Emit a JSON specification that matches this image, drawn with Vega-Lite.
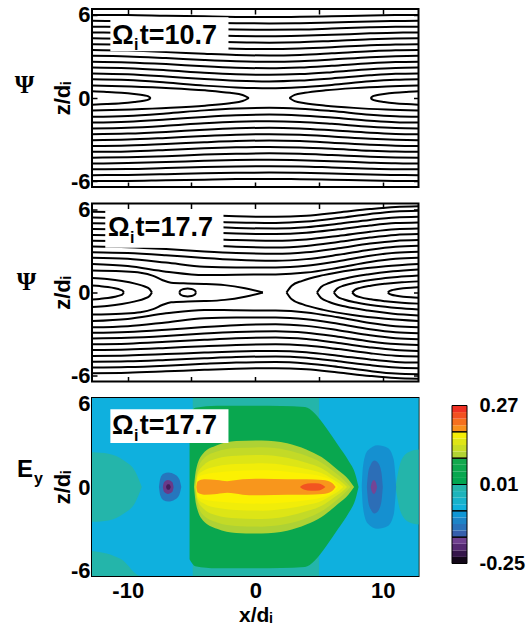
{
"$schema":"https://vega.github.io/schema/vega-lite/v6.json",
"background":"white",
"padding":{"left":13,"top":2,"right":5,"bottom":0},
"bounds":"flush",
"spacing":16.5,
"config":{
 "font":"Liberation Sans",
 "view":{"stroke":"black","strokeWidth":2},
 "axis":{"grid":false,"domain":false,"tickColor":"black","tickWidth":1.5,"tickSize":-5,"labelColor":"black","labelFontSize":22,"labelFontWeight":"bold","labelFont":"Liberation Sans","titleColor":"black","titleFontSize":22,"titleFontWeight":"bold","titleFont":"Liberation Sans","labelOverlap":false,"labelFlush":false}
},
"datasets":{
"p1":[
{"l":"a1","x":-12.8,"u":1.35,"d":-1.35},{"l":"a1","x":-10,"u":1.29,"d":-1.29},{"l":"a1","x":-7,"u":1.11,"d":-1.11},{"l":"a1","x":-4,"u":0.89,"d":-0.89},{"l":"a1","x":-1.5,"u":0.76,"d":-0.76},{"l":"a1","x":1.1,"u":0.7,"d":-0.7},{"l":"a1","x":3.5,"u":0.77,"d":-0.77},{"l":"a1","x":6,"u":0.94,"d":-0.94},{"l":"a1","x":9,"u":1.2,"d":-1.2},{"l":"a1","x":11,"u":1.31,"d":-1.31},{"l":"a1","x":12.8,"u":1.35,"d":-1.35},
{"l":"a2","x":-12.8,"u":1.77,"d":-1.77},{"l":"a2","x":-10,"u":1.71,"d":-1.71},{"l":"a2","x":-7,"u":1.55,"d":-1.55},{"l":"a2","x":-4,"u":1.36,"d":-1.36},{"l":"a2","x":-1.5,"u":1.24,"d":-1.24},{"l":"a2","x":1.1,"u":1.19,"d":-1.19},{"l":"a2","x":3.5,"u":1.25,"d":-1.25},{"l":"a2","x":6,"u":1.41,"d":-1.41},{"l":"a2","x":9,"u":1.63,"d":-1.63},{"l":"a2","x":11,"u":1.74,"d":-1.74},{"l":"a2","x":12.8,"u":1.77,"d":-1.77},
{"l":"a3","x":-12.8,"u":2.19,"d":-2.19},{"l":"a3","x":-10,"u":2.14,"d":-2.14},{"l":"a3","x":-7,"u":2.0,"d":-2.0},{"l":"a3","x":-4,"u":1.82,"d":-1.82},{"l":"a3","x":-1.5,"u":1.71,"d":-1.71},{"l":"a3","x":1.1,"u":1.67,"d":-1.67},{"l":"a3","x":3.5,"u":1.72,"d":-1.72},{"l":"a3","x":6,"u":1.86,"d":-1.86},{"l":"a3","x":9,"u":2.07,"d":-2.07},{"l":"a3","x":11,"u":2.16,"d":-2.16},{"l":"a3","x":12.8,"u":2.19,"d":-2.19},
{"l":"a4","x":-12.8,"u":2.61,"d":-2.61},{"l":"a4","x":-10,"u":2.56,"d":-2.56},{"l":"a4","x":-7,"u":2.44,"d":-2.44},{"l":"a4","x":-4,"u":2.28,"d":-2.28},{"l":"a4","x":-1.5,"u":2.18,"d":-2.18},{"l":"a4","x":1.1,"u":2.14,"d":-2.14},{"l":"a4","x":3.5,"u":2.19,"d":-2.19},{"l":"a4","x":6,"u":2.32,"d":-2.32},{"l":"a4","x":9,"u":2.5,"d":-2.5},{"l":"a4","x":11,"u":2.58,"d":-2.58},{"l":"a4","x":12.8,"u":2.61,"d":-2.61},
{"l":"a5","x":-12.8,"u":3.03,"d":-3.03},{"l":"a5","x":-10,"u":2.99,"d":-2.99},{"l":"a5","x":-7,"u":2.87,"d":-2.87},{"l":"a5","x":-4,"u":2.73,"d":-2.73},{"l":"a5","x":-1.5,"u":2.64,"d":-2.64},{"l":"a5","x":1.1,"u":2.6,"d":-2.6},{"l":"a5","x":3.5,"u":2.64,"d":-2.64},{"l":"a5","x":6,"u":2.76,"d":-2.76},{"l":"a5","x":9,"u":2.93,"d":-2.93},{"l":"a5","x":11,"u":3.0,"d":-3.0},{"l":"a5","x":12.8,"u":3.03,"d":-3.03},
{"l":"a6","x":-12.8,"u":3.45,"d":-3.45},{"l":"a6","x":-10,"u":3.41,"d":-3.41},{"l":"a6","x":-7,"u":3.31,"d":-3.31},{"l":"a6","x":-4,"u":3.18,"d":-3.18},{"l":"a6","x":-1.5,"u":3.09,"d":-3.09},{"l":"a6","x":1.1,"u":3.06,"d":-3.06},{"l":"a6","x":3.5,"u":3.1,"d":-3.1},{"l":"a6","x":6,"u":3.21,"d":-3.21},{"l":"a6","x":9,"u":3.36,"d":-3.36},{"l":"a6","x":11,"u":3.43,"d":-3.43},{"l":"a6","x":12.8,"u":3.45,"d":-3.45},
{"l":"a7","x":-12.8,"u":3.87,"d":-3.87},{"l":"a7","x":-10,"u":3.84,"d":-3.84},{"l":"a7","x":-7,"u":3.74,"d":-3.74},{"l":"a7","x":-4,"u":3.62,"d":-3.62},{"l":"a7","x":-1.5,"u":3.55,"d":-3.55},{"l":"a7","x":1.1,"u":3.52,"d":-3.52},{"l":"a7","x":3.5,"u":3.56,"d":-3.56},{"l":"a7","x":6,"u":3.65,"d":-3.65},{"l":"a7","x":9,"u":3.79,"d":-3.79},{"l":"a7","x":11,"u":3.85,"d":-3.85},{"l":"a7","x":12.8,"u":3.87,"d":-3.87},
{"l":"a8","x":-12.8,"u":4.29,"d":-4.29},{"l":"a8","x":-10,"u":4.26,"d":-4.26},{"l":"a8","x":-7,"u":4.18,"d":-4.18},{"l":"a8","x":-4,"u":4.07,"d":-4.07},{"l":"a8","x":-1.5,"u":4.01,"d":-4.01},{"l":"a8","x":1.1,"u":3.98,"d":-3.98},{"l":"a8","x":3.5,"u":4.01,"d":-4.01},{"l":"a8","x":6,"u":4.1,"d":-4.1},{"l":"a8","x":9,"u":4.22,"d":-4.22},{"l":"a8","x":11,"u":4.27,"d":-4.27},{"l":"a8","x":12.8,"u":4.29,"d":-4.29},
{"l":"a9","x":-12.8,"u":4.71,"d":-4.71},{"l":"a9","x":-10,"u":4.68,"d":-4.68},{"l":"a9","x":-7,"u":4.61,"d":-4.61},{"l":"a9","x":-4,"u":4.52,"d":-4.52},{"l":"a9","x":-1.5,"u":4.46,"d":-4.46},{"l":"a9","x":1.1,"u":4.44,"d":-4.44},{"l":"a9","x":3.5,"u":4.47,"d":-4.47},{"l":"a9","x":6,"u":4.54,"d":-4.54},{"l":"a9","x":9,"u":4.65,"d":-4.65},{"l":"a9","x":11,"u":4.7,"d":-4.7},{"l":"a9","x":12.8,"u":4.71,"d":-4.71},
{"l":"a10","x":-12.8,"u":5.13,"d":-5.13},{"l":"a10","x":-10,"u":5.11,"d":-5.11},{"l":"a10","x":-7,"u":5.04,"d":-5.04},{"l":"a10","x":-4,"u":4.97,"d":-4.97},{"l":"a10","x":-1.5,"u":4.92,"d":-4.92},{"l":"a10","x":1.1,"u":4.9,"d":-4.9},{"l":"a10","x":3.5,"u":4.92,"d":-4.92},{"l":"a10","x":6,"u":4.99,"d":-4.99},{"l":"a10","x":9,"u":5.08,"d":-5.08},{"l":"a10","x":11,"u":5.12,"d":-5.12},{"l":"a10","x":12.8,"u":5.13,"d":-5.13},
{"l":"a11","x":-12.8,"u":5.55,"d":-5.55},{"l":"a11","x":-10,"u":5.53,"d":-5.53},{"l":"a11","x":-7,"u":5.48,"d":-5.48},{"l":"a11","x":-4,"u":5.42,"d":-5.42},{"l":"a11","x":-1.5,"u":5.38,"d":-5.38},{"l":"a11","x":1.1,"u":5.36,"d":-5.36},{"l":"a11","x":3.5,"u":5.38,"d":-5.38},{"l":"a11","x":6,"u":5.43,"d":-5.43},{"l":"a11","x":9,"u":5.51,"d":-5.51},{"l":"a11","x":11,"u":5.54,"d":-5.54},{"l":"a11","x":12.8,"u":5.55,"d":-5.55},
{"l":"a12","x":-12.8,"u":5.97,"d":-5.97},{"l":"a12","x":-10,"u":5.96,"d":-5.96},{"l":"a12","x":-7,"u":5.91,"d":-5.91},{"l":"a12","x":-4,"u":5.87,"d":-5.87},{"l":"a12","x":-1.5,"u":5.83,"d":-5.83},{"l":"a12","x":1.1,"u":5.82,"d":-5.82},{"l":"a12","x":3.5,"u":5.84,"d":-5.84},{"l":"a12","x":6,"u":5.88,"d":-5.88},{"l":"a12","x":9,"u":5.93,"d":-5.93},{"l":"a12","x":11,"u":5.96,"d":-5.96},{"l":"a12","x":12.8,"u":5.97,"d":-5.97},
{"l":"b1","x":-12.8,"u":0.48,"d":-0.48},{"l":"b1","x":-11.65,"u":0.44,"d":-0.44},{"l":"b1","x":-10.5,"u":0.38,"d":-0.38},{"l":"b1","x":-9.49,"u":0.29,"d":-0.29},{"l":"b1","x":-8.75,"u":0.2,"d":-0.2},{"l":"b1","x":-8.38,"u":0.12,"d":-0.12},{"l":"b1","x":-8.2,"u":0,"d":0},
{"l":"b2","x":9.05,"u":0,"d":0},{"l":"b2","x":9.2,"u":0.12,"d":-0.12},{"l":"b2","x":9.5,"u":0.2,"d":-0.2},{"l":"b2","x":10.1,"u":0.29,"d":-0.29},{"l":"b2","x":10.93,"u":0.38,"d":-0.38},{"l":"b2","x":11.86,"u":0.44,"d":-0.44},{"l":"b2","x":12.8,"u":0.48,"d":-0.48},
{"l":"c1","x":-12.8,"u":0.9,"d":-0.9},{"l":"c1","x":-9.73,"u":0.83,"d":-0.83},{"l":"c1","x":-6.65,"u":0.71,"d":-0.71},{"l":"c1","x":-3.94,"u":0.55,"d":-0.55},{"l":"c1","x":-1.98,"u":0.37,"d":-0.37},{"l":"c1","x":-0.99,"u":0.22,"d":-0.22},{"l":"c1","x":-0.5,"u":0,"d":0},
{"l":"c2","x":2.68,"u":0,"d":0},{"l":"c2","x":3.09,"u":0.22,"d":-0.22},{"l":"c2","x":3.89,"u":0.37,"d":-0.37},{"l":"c2","x":5.51,"u":0.55,"d":-0.55},{"l":"c2","x":7.74,"u":0.71,"d":-0.71},{"l":"c2","x":10.27,"u":0.83,"d":-0.83},{"l":"c2","x":12.8,"u":0.9,"d":-0.9}
],
"p2":[
{"l":"o1","x":-12.8,"u":2.05,"d":-2.05},{"l":"o1","x":-10,"u":1.9,"d":-1.9},{"l":"o1","x":-7,"u":1.5,"d":-1.5},{"l":"o1","x":-4,"u":1.25,"d":-1.25},{"l":"o1","x":-1.5,"u":1.28,"d":-1.28},{"l":"o1","x":1.6,"u":1.3,"d":-1.3},{"l":"o1","x":4,"u":1.43,"d":-1.43},{"l":"o1","x":6.5,"u":1.78,"d":-1.78},{"l":"o1","x":9,"u":2.19,"d":-2.19},{"l":"o1","x":11,"u":2.42,"d":-2.42},{"l":"o1","x":12.8,"u":2.5,"d":-2.5},
{"l":"o2","x":-12.8,"u":2.5,"d":-2.5},{"l":"o2","x":-10,"u":2.42,"d":-2.42},{"l":"o2","x":-7,"u":2.15,"d":-2.15},{"l":"o2","x":-4,"u":1.85,"d":-1.85},{"l":"o2","x":-1.5,"u":1.8,"d":-1.8},{"l":"o2","x":1.6,"u":1.8,"d":-1.8},{"l":"o2","x":4,"u":1.92,"d":-1.92},{"l":"o2","x":6.5,"u":2.25,"d":-2.25},{"l":"o2","x":9,"u":2.64,"d":-2.64},{"l":"o2","x":11,"u":2.86,"d":-2.86},{"l":"o2","x":12.8,"u":2.93,"d":-2.93},
{"l":"o3","x":-12.8,"u":2.9,"d":-2.9},{"l":"o3","x":-10,"u":2.84,"d":-2.84},{"l":"o3","x":-7,"u":2.68,"d":-2.68},{"l":"o3","x":-4,"u":2.48,"d":-2.48},{"l":"o3","x":-1.5,"u":2.35,"d":-2.35},{"l":"o3","x":1.6,"u":2.28,"d":-2.28},{"l":"o3","x":4,"u":2.4,"d":-2.4},{"l":"o3","x":6.5,"u":2.71,"d":-2.71},{"l":"o3","x":9,"u":3.08,"d":-3.08},{"l":"o3","x":11,"u":3.29,"d":-3.29},{"l":"o3","x":12.8,"u":3.36,"d":-3.36},
{"l":"o4","x":-12.8,"u":3.3,"d":-3.3},{"l":"o4","x":-10,"u":3.25,"d":-3.25},{"l":"o4","x":-7,"u":3.12,"d":-3.12},{"l":"o4","x":-4,"u":2.95,"d":-2.95},{"l":"o4","x":-1.5,"u":2.84,"d":-2.84},{"l":"o4","x":1.6,"u":2.78,"d":-2.78},{"l":"o4","x":4,"u":2.89,"d":-2.89},{"l":"o4","x":6.5,"u":3.18,"d":-3.18},{"l":"o4","x":9,"u":3.52,"d":-3.52},{"l":"o4","x":11,"u":3.71,"d":-3.71},{"l":"o4","x":12.8,"u":3.77,"d":-3.77},
{"l":"o5","x":-12.8,"u":3.72,"d":-3.72},{"l":"o5","x":-10,"u":3.68,"d":-3.68},{"l":"o5","x":-7,"u":3.55,"d":-3.55},{"l":"o5","x":-4,"u":3.4,"d":-3.4},{"l":"o5","x":-1.5,"u":3.29,"d":-3.29},{"l":"o5","x":1.6,"u":3.24,"d":-3.24},{"l":"o5","x":4,"u":3.35,"d":-3.35},{"l":"o5","x":6.5,"u":3.63,"d":-3.63},{"l":"o5","x":9,"u":3.95,"d":-3.95},{"l":"o5","x":11,"u":4.14,"d":-4.14},{"l":"o5","x":12.8,"u":4.2,"d":-4.2},
{"l":"o6","x":-12.8,"u":4.14,"d":-4.14},{"l":"o6","x":-10,"u":4.1,"d":-4.1},{"l":"o6","x":-7,"u":3.99,"d":-3.99},{"l":"o6","x":-4,"u":3.86,"d":-3.86},{"l":"o6","x":-1.5,"u":3.77,"d":-3.77},{"l":"o6","x":1.6,"u":3.72,"d":-3.72},{"l":"o6","x":4,"u":3.82,"d":-3.82},{"l":"o6","x":6.5,"u":4.07,"d":-4.07},{"l":"o6","x":9,"u":4.37,"d":-4.37},{"l":"o6","x":11,"u":4.55,"d":-4.55},{"l":"o6","x":12.8,"u":4.6,"d":-4.6},
{"l":"o7","x":-12.8,"u":4.56,"d":-4.56},{"l":"o7","x":-10,"u":4.53,"d":-4.53},{"l":"o7","x":-7,"u":4.43,"d":-4.43},{"l":"o7","x":-4,"u":4.32,"d":-4.32},{"l":"o7","x":-1.5,"u":4.24,"d":-4.24},{"l":"o7","x":1.6,"u":4.2,"d":-4.2},{"l":"o7","x":4,"u":4.29,"d":-4.29},{"l":"o7","x":6.5,"u":4.54,"d":-4.54},{"l":"o7","x":9,"u":4.82,"d":-4.82},{"l":"o7","x":11,"u":4.99,"d":-4.99},{"l":"o7","x":12.8,"u":5.04,"d":-5.04},
{"l":"o8","x":-12.8,"u":4.98,"d":-4.98},{"l":"o8","x":-10,"u":4.95,"d":-4.95},{"l":"o8","x":-7,"u":4.85,"d":-4.85},{"l":"o8","x":-4,"u":4.73,"d":-4.73},{"l":"o8","x":-1.5,"u":4.64,"d":-4.64},{"l":"o8","x":1.6,"u":4.6,"d":-4.6},{"l":"o8","x":4,"u":4.69,"d":-4.69},{"l":"o8","x":6.5,"u":4.94,"d":-4.94},{"l":"o8","x":9,"u":5.22,"d":-5.22},{"l":"o8","x":11,"u":5.39,"d":-5.39},{"l":"o8","x":12.8,"u":5.44,"d":-5.44},
{"l":"o9","x":-12.8,"u":5.4,"d":-5.4},{"l":"o9","x":-10,"u":5.36,"d":-5.36},{"l":"o9","x":-7,"u":5.26,"d":-5.26},{"l":"o9","x":-4,"u":5.13,"d":-5.13},{"l":"o9","x":-1.5,"u":5.04,"d":-5.04},{"l":"o9","x":1.6,"u":5.0,"d":-5.0},{"l":"o9","x":4,"u":5.1,"d":-5.1},{"l":"o9","x":6.5,"u":5.35,"d":-5.35},{"l":"o9","x":9,"u":5.65,"d":-5.65},{"l":"o9","x":11,"u":5.83,"d":-5.83},{"l":"o9","x":12.8,"u":5.88,"d":-5.88},
{"l":"o10","x":-12.8,"u":5.8,"d":-5.8},{"l":"o10","x":-10,"u":5.77,"d":-5.77},{"l":"o10","x":-7,"u":5.67,"d":-5.67},{"l":"o10","x":-4,"u":5.56,"d":-5.56},{"l":"o10","x":-1.5,"u":5.48,"d":-5.48},{"l":"o10","x":1.6,"u":5.44,"d":-5.44},{"l":"o10","x":4,"u":5.52,"d":-5.52},{"l":"o10","x":6.5,"u":5.75,"d":-5.75},{"l":"o10","x":9,"u":6.0,"d":-6.0},{"l":"o10","x":11,"u":6.15,"d":-6.15},{"l":"o10","x":12.8,"u":6.2,"d":-6.2},
{"l":"e1","x":-12.8,"u":0.5,"d":-0.5},{"l":"e1","x":-12.18,"u":0.46,"d":-0.46},{"l":"e1","x":-11.55,"u":0.4,"d":-0.4},{"l":"e1","x":-11.0,"u":0.31,"d":-0.31},{"l":"e1","x":-10.6,"u":0.21,"d":-0.21},{"l":"e1","x":-10.4,"u":0.12,"d":-0.12},{"l":"e1","x":-10.3,"u":0,"d":0},
{"l":"e2","x":-12.8,"u":1.05,"d":-1.05},{"l":"e2","x":-11.63,"u":0.97,"d":-0.97},{"l":"e2","x":-10.45,"u":0.83,"d":-0.83},{"l":"e2","x":-9.42,"u":0.64,"d":-0.64},{"l":"e2","x":-8.66,"u":0.43,"d":-0.43},{"l":"e2","x":-8.29,"u":0.25,"d":-0.25},{"l":"e2","x":-8.1,"u":0,"d":0},
{"l":"e3","x":-12.8,"u":1.58,"d":-1.58},{"l":"e3","x":-10.5,"u":1.52,"d":-1.52},{"l":"e3","x":-9.0,"u":1.42,"d":-1.42},{"l":"e3","x":-8.0,"u":1.2,"d":-1.2},{"l":"e3","x":-7.3,"u":0.9,"d":-0.9},{"l":"e3","x":-6.6,"u":0.7,"d":-0.7},{"l":"e3","x":-5.3,"u":0.65,"d":-0.65},{"l":"e3","x":-4.0,"u":0.62,"d":-0.62},{"l":"e3","x":-2.4,"u":0.53,"d":-0.53},{"l":"e3","x":-0.8,"u":0.3,"d":-0.3},{"l":"e3","x":0.6,"u":0,"d":0},
{"l":"e4","x":-5.95,"u":0,"d":0},{"l":"e4","x":-5.9,"u":0.11,"d":-0.11},{"l":"e4","x":-5.8,"u":0.18,"d":-0.18},{"l":"e4","x":-5.6,"u":0.25,"d":-0.25},{"l":"e4","x":-5.3,"u":0.28,"d":-0.28},{"l":"e4","x":-5.0,"u":0.25,"d":-0.25},{"l":"e4","x":-4.8,"u":0.18,"d":-0.18},{"l":"e4","x":-4.7,"u":0.11,"d":-0.11},{"l":"e4","x":-4.65,"u":0,"d":0},
{"l":"f1","x":10.4,"u":0,"d":0},{"l":"f1","x":10.5,"u":0.09,"d":-0.09},{"l":"f1","x":10.69,"u":0.16,"d":-0.16},{"l":"f1","x":11.07,"u":0.23,"d":-0.23},{"l":"f1","x":11.6,"u":0.3,"d":-0.3},{"l":"f1","x":12.2,"u":0.35,"d":-0.35},{"l":"f1","x":12.8,"u":0.38,"d":-0.38},
{"l":"f2","x":7.6,"u":0,"d":0},{"l":"f2","x":7.81,"u":0.19,"d":-0.19},{"l":"f2","x":8.22,"u":0.33,"d":-0.33},{"l":"f2","x":9.06,"u":0.49,"d":-0.49},{"l":"f2","x":10.2,"u":0.63,"d":-0.63},{"l":"f2","x":11.5,"u":0.74,"d":-0.74},{"l":"f2","x":12.8,"u":0.8,"d":-0.8},
{"l":"f3","x":6.16,"u":0,"d":0},{"l":"f3","x":6.43,"u":0.29,"d":-0.29},{"l":"f3","x":6.96,"u":0.5,"d":-0.5},{"l":"f3","x":8.02,"u":0.74,"d":-0.74},{"l":"f3","x":9.48,"u":0.96,"d":-0.96},{"l":"f3","x":11.14,"u":1.12,"d":-1.12},{"l":"f3","x":12.8,"u":1.22,"d":-1.22},
{"l":"f4","x":4.84,"u":0,"d":0},{"l":"f4","x":5.16,"u":0.4,"d":-0.4},{"l":"f4","x":5.8,"u":0.68,"d":-0.68},{"l":"f4","x":7.07,"u":1.01,"d":-1.01},{"l":"f4","x":8.82,"u":1.3,"d":-1.3},{"l":"f4","x":10.81,"u":1.52,"d":-1.52},{"l":"f4","x":12.8,"u":1.65,"d":-1.65},
{"l":"f5","x":2.45,"u":0,"d":0},{"l":"f5","x":2.86,"u":0.49,"d":-0.49},{"l":"f5","x":3.69,"u":0.84,"d":-0.84},{"l":"f5","x":5.35,"u":1.25,"d":-1.25},{"l":"f5","x":7.63,"u":1.62,"d":-1.62},{"l":"f5","x":10.21,"u":1.89,"d":-1.89},{"l":"f5","x":12.8,"u":2.05,"d":-2.05}
],
"p3":[
{"r":"bg","x":-12.8,"lo":-6.4,"hi":6.4,"v":0.0},{"r":"bg","x":12.8,"lo":-6.4,"hi":6.4,"v":0.0},
{"r":"cyL","x":-12.8,"lo":-4.6,"hi":6.4,"v":-0.07},{"r":"cyL","x":-10.5,"lo":-5.2,"hi":6.4,"v":-0.07},{"r":"cyL","x":-9,"lo":-6.4,"hi":6.4,"v":-0.07},{"r":"cyL","x":-4.9,"lo":-6.4,"hi":6.4,"v":-0.07},
{"r":"teL","x":-12.8,"lo":-2.5,"hi":2.5,"v":0.0},{"r":"teL","x":-11.5,"lo":-2.4,"hi":2.4,"v":0.0},{"r":"teL","x":-10.3,"lo":-1.9,"hi":1.9,"v":0.0},{"r":"teL","x":-9.4,"lo":-1.1,"hi":1.1,"v":0.0},{"r":"teL","x":-8.9,"lo":0,"hi":0,"v":0.0},
{"r":"cyR","x":5,"lo":-6.4,"hi":6.4,"v":-0.07},{"r":"cyR","x":12.8,"lo":-6.4,"hi":6.4,"v":-0.07},
{"r":"teR","x":11.0,"lo":0,"hi":0,"v":0.0},{"r":"teR","x":11.4,"lo":-1.8,"hi":1.8,"v":0.0},{"r":"teR","x":12.0,"lo":-2.5,"hi":2.5,"v":0.0},{"r":"teR","x":12.8,"lo":-2.7,"hi":2.7,"v":0.0},
{"r":"bRo","x":8.35,"lo":0,"hi":0,"v":-0.095},{"r":"bRo","x":8.45,"lo":-1.5,"hi":1.5,"v":-0.095},{"r":"bRo","x":8.8,"lo":-2.6,"hi":2.6,"v":-0.095},{"r":"bRo","x":9.6,"lo":-3.0,"hi":3.0,"v":-0.095},{"r":"bRo","x":10.4,"lo":-2.8,"hi":2.8,"v":-0.095},{"r":"bRo","x":10.85,"lo":-2.0,"hi":2.0,"v":-0.095},{"r":"bRo","x":11.05,"lo":0,"hi":0,"v":-0.095},
{"r":"bRi","x":8.75,"lo":0,"hi":0,"v":-0.135},{"r":"bRi","x":8.85,"lo":-1.0,"hi":1.0,"v":-0.135},{"r":"bRi","x":9.05,"lo":-1.6,"hi":1.6,"v":-0.135},{"r":"bRi","x":9.35,"lo":-1.9,"hi":1.9,"v":-0.135},{"r":"bRi","x":9.65,"lo":-1.7,"hi":1.7,"v":-0.135},{"r":"bRi","x":9.9,"lo":-1.0,"hi":1.0,"v":-0.135},{"r":"bRi","x":10.0,"lo":0,"hi":0,"v":-0.135},
{"r":"pR","x":9.05,"lo":0,"hi":0,"v":-0.17},{"r":"pR","x":9.15,"lo":-0.35,"hi":0.35,"v":-0.17},{"r":"pR","x":9.3,"lo":-0.5,"hi":0.5,"v":-0.17},{"r":"pR","x":9.45,"lo":-0.35,"hi":0.35,"v":-0.17},{"r":"pR","x":9.55,"lo":0,"hi":0,"v":-0.17},
{"r":"gr","x":-5.15,"lo":-5.2,"hi":5.2,"v":0.05},{"r":"gr","x":-4.7,"lo":-5.7,"hi":5.7,"v":0.05},{"r":"gr","x":-3,"lo":-5.85,"hi":5.85,"v":0.05},{"r":"gr","x":0,"lo":-5.85,"hi":5.85,"v":0.05},{"r":"gr","x":2,"lo":-5.82,"hi":5.82,"v":0.05},{"r":"gr","x":3.9,"lo":-5.75,"hi":5.75,"v":0.05},{"r":"gr","x":4.65,"lo":-5.3,"hi":5.3,"v":0.05},{"r":"gr","x":5.6,"lo":-4.2,"hi":4.2,"v":0.05},{"r":"gr","x":6.5,"lo":-3.0,"hi":3.0,"v":0.05},{"r":"gr","x":7.3,"lo":-1.9,"hi":1.9,"v":0.05},{"r":"gr","x":7.85,"lo":-0.9,"hi":0.9,"v":0.05},{"r":"gr","x":8.1,"lo":0,"hi":0,"v":0.05},
{"r":"bL","x":-7.55,"lo":0,"hi":0,"v":-0.125},{"r":"bL","x":-7.45,"lo":-0.6,"hi":0.6,"v":-0.125},{"r":"bL","x":-7.2,"lo":-0.95,"hi":0.95,"v":-0.125},{"r":"bL","x":-6.8,"lo":-1.05,"hi":1.05,"v":-0.125},{"r":"bL","x":-6.3,"lo":-0.9,"hi":0.9,"v":-0.125},{"r":"bL","x":-5.95,"lo":-0.55,"hi":0.55,"v":-0.125},{"r":"bL","x":-5.8,"lo":0,"hi":0,"v":-0.125},
{"r":"pL","x":-7.25,"lo":0,"hi":0,"v":-0.18},{"r":"pL","x":-7.15,"lo":-0.35,"hi":0.35,"v":-0.18},{"r":"pL","x":-6.85,"lo":-0.5,"hi":0.5,"v":-0.18},{"r":"pL","x":-6.5,"lo":-0.35,"hi":0.35,"v":-0.18},{"r":"pL","x":-6.4,"lo":0,"hi":0,"v":-0.18},
{"r":"mL","x":-7.0,"lo":0,"hi":0,"v":-0.21},{"r":"mL","x":-6.9,"lo":-0.18,"hi":0.18,"v":-0.21},{"r":"mL","x":-6.75,"lo":-0.2,"hi":0.2,"v":-0.21},{"r":"mL","x":-6.62,"lo":0,"hi":0,"v":-0.21},
{"r":"y1","x":-4.8,"lo":0,"hi":0,"v":0.105},{"r":"y1","x":-4.65,"lo":-1.2,"hi":1.2,"v":0.105},{"r":"y1","x":-4.1,"lo":-2.4,"hi":2.4,"v":0.105},{"r":"y1","x":-3.0,"lo":-3.0,"hi":3.0,"v":0.105},{"r":"y1","x":-1.5,"lo":-3.3,"hi":3.3,"v":0.105},{"r":"y1","x":0.5,"lo":-3.35,"hi":3.35,"v":0.105},{"r":"y1","x":2.5,"lo":-3.15,"hi":3.15,"v":0.105},{"r":"y1","x":4.0,"lo":-2.7,"hi":2.7,"v":0.105},{"r":"y1","x":5.2,"lo":-2.15,"hi":2.15,"v":0.105},{"r":"y1","x":6.5,"lo":-1.2,"hi":1.2,"v":0.105},{"r":"y1","x":7.3,"lo":-0.55,"hi":0.55,"v":0.105},{"r":"y1","x":7.75,"lo":0,"hi":0,"v":0.105},
{"r":"y2","x":-4.72,"lo":0,"hi":0,"v":0.125},{"r":"y2","x":-4.58,"lo":-1.0,"hi":1.0,"v":0.125},{"r":"y2","x":-4.1,"lo":-2.0,"hi":2.0,"v":0.125},{"r":"y2","x":-3.0,"lo":-2.55,"hi":2.55,"v":0.125},{"r":"y2","x":-1.5,"lo":-2.8,"hi":2.8,"v":0.125},{"r":"y2","x":0.5,"lo":-2.85,"hi":2.85,"v":0.125},{"r":"y2","x":2.5,"lo":-2.65,"hi":2.65,"v":0.125},{"r":"y2","x":4.0,"lo":-2.25,"hi":2.25,"v":0.125},{"r":"y2","x":5.2,"lo":-1.75,"hi":1.75,"v":0.125},{"r":"y2","x":6.3,"lo":-1.0,"hi":1.0,"v":0.125},{"r":"y2","x":7.0,"lo":-0.45,"hi":0.45,"v":0.125},{"r":"y2","x":7.45,"lo":0,"hi":0,"v":0.125},
{"r":"y3","x":-4.68,"lo":0,"hi":0,"v":0.15},{"r":"y3","x":-4.55,"lo":-0.9,"hi":0.9,"v":0.15},{"r":"y3","x":-4.0,"lo":-1.6,"hi":1.6,"v":0.15},{"r":"y3","x":-3.0,"lo":-2.05,"hi":2.05,"v":0.15},{"r":"y3","x":-1.5,"lo":-2.25,"hi":2.25,"v":0.15},{"r":"y3","x":0.5,"lo":-2.3,"hi":2.3,"v":0.15},{"r":"y3","x":2.5,"lo":-2.1,"hi":2.1,"v":0.15},{"r":"y3","x":4.0,"lo":-1.75,"hi":1.75,"v":0.15},{"r":"y3","x":5.2,"lo":-1.35,"hi":1.35,"v":0.15},{"r":"y3","x":6.1,"lo":-0.8,"hi":0.8,"v":0.15},{"r":"y3","x":6.8,"lo":-0.35,"hi":0.35,"v":0.15},{"r":"y3","x":7.2,"lo":0,"hi":0,"v":0.15},
{"r":"y4","x":-4.65,"lo":0,"hi":0,"v":0.17},{"r":"y4","x":-4.52,"lo":-0.8,"hi":0.8,"v":0.17},{"r":"y4","x":-4.0,"lo":-1.2,"hi":1.2,"v":0.17},{"r":"y4","x":-3.0,"lo":-1.5,"hi":1.5,"v":0.17},{"r":"y4","x":-1.5,"lo":-1.65,"hi":1.65,"v":0.17},{"r":"y4","x":0.5,"lo":-1.7,"hi":1.7,"v":0.17},{"r":"y4","x":2.5,"lo":-1.55,"hi":1.55,"v":0.17},{"r":"y4","x":4.0,"lo":-1.3,"hi":1.3,"v":0.17},{"r":"y4","x":5.2,"lo":-1.0,"hi":1.0,"v":0.17},{"r":"y4","x":6.0,"lo":-0.6,"hi":0.6,"v":0.17},{"r":"y4","x":6.6,"lo":-0.25,"hi":0.25,"v":0.17},{"r":"y4","x":6.9,"lo":0,"hi":0,"v":0.17},
{"r":"y5","x":-4.62,"lo":0,"hi":0,"v":0.18},{"r":"y5","x":-4.5,"lo":-0.7,"hi":0.7,"v":0.18},{"r":"y5","x":-4.0,"lo":-0.9,"hi":0.9,"v":0.18},{"r":"y5","x":-3.0,"lo":-1.05,"hi":1.05,"v":0.18},{"r":"y5","x":-1.5,"lo":-1.15,"hi":1.15,"v":0.18},{"r":"y5","x":0.5,"lo":-1.2,"hi":1.2,"v":0.18},{"r":"y5","x":2.5,"lo":-1.1,"hi":1.1,"v":0.18},{"r":"y5","x":4.0,"lo":-0.95,"hi":0.95,"v":0.18},{"r":"y5","x":5.2,"lo":-0.75,"hi":0.75,"v":0.18},{"r":"y5","x":6.0,"lo":-0.45,"hi":0.45,"v":0.18},{"r":"y5","x":6.5,"lo":0,"hi":0,"v":0.18},
{"r":"or","x":-4.62,"lo":0,"hi":0,"v":0.19},{"r":"or","x":-4.52,"lo":-0.4,"hi":0.4,"v":0.19},{"r":"or","x":-4.0,"lo":-0.55,"hi":0.55,"v":0.19},{"r":"or","x":-3.0,"lo":-0.5,"hi":0.5,"v":0.19},{"r":"or","x":-2.2,"lo":-0.42,"hi":0.42,"v":0.19},{"r":"or","x":-1.0,"lo":-0.55,"hi":0.55,"v":0.19},{"r":"or","x":0.5,"lo":-0.6,"hi":0.6,"v":0.19},{"r":"or","x":2.5,"lo":-0.55,"hi":0.55,"v":0.19},{"r":"or","x":4.0,"lo":-0.55,"hi":0.55,"v":0.19},{"r":"or","x":5.3,"lo":-0.5,"hi":0.5,"v":0.19},{"r":"or","x":6.0,"lo":-0.3,"hi":0.3,"v":0.19},{"r":"or","x":6.3,"lo":0,"hi":0,"v":0.19},
{"r":"rd","x":3.5,"lo":0,"hi":0,"v":0.235},{"r":"rd","x":3.8,"lo":-0.18,"hi":0.18,"v":0.235},{"r":"rd","x":4.4,"lo":-0.27,"hi":0.27,"v":0.235},{"r":"rd","x":5.0,"lo":-0.25,"hi":0.25,"v":0.235},{"r":"rd","x":5.5,"lo":0,"hi":0,"v":0.235}
],
"cb":[
{"lo":-0.25,"hi":-0.2283,"v":-0.2392},{"lo":-0.2283,"hi":-0.2067,"v":-0.2175},{"lo":-0.2067,"hi":-0.185,"v":-0.1958},{"lo":-0.185,"hi":-0.1633,"v":-0.1742},
{"lo":-0.1633,"hi":-0.1417,"v":-0.1525},{"lo":-0.1417,"hi":-0.12,"v":-0.1308},{"lo":-0.12,"hi":-0.0983,"v":-0.1092},{"lo":-0.0983,"hi":-0.0767,"v":-0.0875},
{"lo":-0.0767,"hi":-0.055,"v":-0.0658},{"lo":-0.055,"hi":-0.0333,"v":-0.0442},{"lo":-0.0333,"hi":-0.0117,"v":-0.0225},{"lo":-0.0117,"hi":0.01,"v":-0.0008},
{"lo":0.01,"hi":0.0317,"v":0.0208},{"lo":0.0317,"hi":0.0533,"v":0.0425},{"lo":0.0533,"hi":0.075,"v":0.0642},{"lo":0.075,"hi":0.0967,"v":0.0858},
{"lo":0.0967,"hi":0.1183,"v":0.1075},{"lo":0.1183,"hi":0.14,"v":0.1292},{"lo":0.14,"hi":0.1617,"v":0.1508},{"lo":0.1617,"hi":0.1833,"v":0.1725},
{"lo":0.1833,"hi":0.205,"v":0.1942},{"lo":0.205,"hi":0.2267,"v":0.2158},{"lo":0.2267,"hi":0.2483,"v":0.2375},{"lo":0.2483,"hi":0.27,"v":0.2592}
],
"cbb":[
{"lo":-0.25,"hi":-0.1633},{"lo":-0.1633,"hi":-0.0767},{"lo":-0.0767,"hi":0.01},{"lo":0.01,"hi":0.0967},{"lo":0.0967,"hi":0.1833},{"lo":0.1833,"hi":0.27}
]
},
"vconcat":[
{
 "width":326.5,"height":178,
 "layer":[
  {"data":{"name":"p1"},"transform":[{"fold":["u","d"],"as":["k","z"]}],
   "mark":{"type":"line","color":"black","strokeWidth":2,"interpolate":"monotone"},
   "encoding":{
    "x":{"field":"x","type":"quantitative","scale":{"domain":[-12.8,12.8],"nice":false,"zero":false},"axis":{"orient":"bottom","values":[-10,-5,0,5,10],"labels":false,"title":null}},
    "y":{"field":"z","type":"quantitative","scale":{"domain":[-6.4,6.4],"nice":false,"zero":false},"axis":{"orient":"left","values":[-6,0,6],"labelExpr":"replace(datum.label,'\u2212','-')","labelPadding":7,"title":"z/dᵢ","titlePadding":-4}},
    "detail":[{"field":"l","type":"nominal"},{"field":"k","type":"nominal"}]}},
  {"data":{"values":[{}]},"mark":{"type":"rect","fill":"white"},
   "encoding":{
    "x":{"datum":-11.36,"type":"quantitative","axis":{"orient":"top","values":[-10,-5,0,5,10],"labels":false,"title":null}},
    "x2":{"datum":-2.1},
    "y":{"datum":5.8,"type":"quantitative","axis":{"orient":"right","values":[-6,0,6],"labels":false,"title":null}},
    "y2":{"datum":3.37}}},
  {"data":{"values":[{}]},"mark":{"type":"text","text":"Ω","align":"left","baseline":"alphabetic","fontSize":27,"fontWeight":"bold","color":"black"},
   "encoding":{"x":{"datum":-11.23,"type":"quantitative","axis":null},"y":{"datum":3.9,"type":"quantitative","axis":null}}},
  {"data":{"values":[{}]},"mark":{"type":"text","text":"i","align":"left","baseline":"alphabetic","fontSize":16,"fontWeight":"bold","color":"black"},
   "encoding":{"x":{"datum":-9.5,"type":"quantitative","axis":null},"y":{"datum":3.42,"type":"quantitative","axis":null}}},
  {"data":{"values":[{}]},"mark":{"type":"text","text":"t=10.7","align":"left","baseline":"alphabetic","fontSize":27,"fontWeight":"bold","color":"black"},
   "encoding":{"x":{"datum":-9.06,"type":"quantitative","axis":null},"y":{"datum":3.9,"type":"quantitative","axis":null}}},
  {"data":{"values":[{}]},"mark":{"type":"text","text":"Ψ","align":"center","baseline":"middle","fontSize":25,"fontWeight":"bold","font":"Liberation Serif","color":"black"},
   "encoding":{"x":{"datum":-18.09,"type":"quantitative","axis":null},"y":{"datum":0.97,"type":"quantitative","axis":null}}}
 ],
 "resolve":{"axis":{"x":"independent","y":"independent"}}
},
{
 "width":326.5,"height":178,
 "layer":[
  {"data":{"name":"p2"},"transform":[{"fold":["u","d"],"as":["k","z"]}],
   "mark":{"type":"line","color":"black","strokeWidth":2,"interpolate":"monotone"},
   "encoding":{
    "x":{"field":"x","type":"quantitative","scale":{"domain":[-12.8,12.8],"nice":false,"zero":false},"axis":{"orient":"bottom","values":[-10,-5,0,5,10],"labels":false,"title":null}},
    "y":{"field":"z","type":"quantitative","scale":{"domain":[-6.4,6.4],"nice":false,"zero":false},"axis":{"orient":"left","values":[-6,0,6],"labelExpr":"replace(datum.label,'\u2212','-')","labelPadding":7,"title":"z/dᵢ","titlePadding":-4}},
    "detail":[{"field":"l","type":"nominal"},{"field":"k","type":"nominal"}]}},
  {"data":{"values":[{}]},"mark":{"type":"rect","fill":"white"},
   "encoding":{
    "x":{"datum":-11.76,"type":"quantitative","axis":{"orient":"top","values":[-10,-5,0,5,10],"labels":false,"title":null}},
    "x2":{"datum":-2.49},
    "y":{"datum":5.88,"type":"quantitative","axis":{"orient":"right","values":[-6,0,6],"labels":false,"title":null}},
    "y2":{"datum":3.21}}},
  {"data":{"values":[{}]},"mark":{"type":"text","text":"Ω","align":"left","baseline":"alphabetic","fontSize":27,"fontWeight":"bold","color":"black"},
   "encoding":{"x":{"datum":-11.55,"type":"quantitative","axis":null},"y":{"datum":4.06,"type":"quantitative","axis":null}}},
  {"data":{"values":[{}]},"mark":{"type":"text","text":"i","align":"left","baseline":"alphabetic","fontSize":16,"fontWeight":"bold","color":"black"},
   "encoding":{"x":{"datum":-9.82,"type":"quantitative","axis":null},"y":{"datum":3.58,"type":"quantitative","axis":null}}},
  {"data":{"values":[{}]},"mark":{"type":"text","text":"t=17.7","align":"left","baseline":"alphabetic","fontSize":27,"fontWeight":"bold","color":"black"},
   "encoding":{"x":{"datum":-9.38,"type":"quantitative","axis":null},"y":{"datum":4.06,"type":"quantitative","axis":null}}},
  {"data":{"values":[{}]},"mark":{"type":"text","text":"Ψ","align":"center","baseline":"middle","fontSize":25,"fontWeight":"bold","font":"Liberation Serif","color":"black"},
   "encoding":{"x":{"datum":-17.93,"type":"quantitative","axis":null},"y":{"datum":0.72,"type":"quantitative","axis":null}}}
 ],
 "resolve":{"axis":{"x":"independent","y":"independent"}}
},
{
 "bounds":"flush",
 "spacing":33,
 "hconcat":[
 {
  "width":326.5,"height":178,
  "layer":[
   {"data":{"name":"p3"},
    "encoding":{
     "x":{"field":"x","type":"quantitative","scale":{"domain":[-12.8,12.8],"nice":false,"zero":false},"axis":{"orient":"bottom","values":[-10,-5,0,5,10],"labelExpr":"datum.value % 10 == 0 ? replace(datum.label,'\u2212','-') : ''","labelPadding":9,"title":"x/dᵢ","titlePadding":3,"titleFontSize":21}},
     "y":{"field":"lo","type":"quantitative","scale":{"domain":[-6.4,6.4],"nice":false,"zero":false},"axis":{"orient":"left","values":[-6,-4,-2,0,2,4,6],"labelExpr":"datum.value % 6 == 0 ? replace(datum.label,'\u2212','-') : ''","labelPadding":7,"title":"z/dᵢ","titlePadding":-4}},
     "y2":{"field":"hi"},
     "color":{"field":"v","type":"quantitative","legend":null,"scale":{"type":"linear","interpolate":"rgb","domain":[-0.25,-0.205,-0.1634,-0.1632,-0.0768,-0.0766,0.0099,0.0101,0.0966,0.0968,0.1832,0.1834,0.27],"range":["#000000","#4a1f66","#7d4c9e","#3c56a5","#0a9fdc","#0db0e3","#27b6a3","#00a651","#14a84c","#a6cf3a","#fff200","#f9a01b","#ed2024"]}}},
    "layer":[
     {"transform":[{"filter":"datum.r=='bg'"}],"mark":{"type":"area","interpolate":"monotone"}},
     {"transform":[{"filter":"datum.r=='cyL'"}],"mark":{"type":"area","interpolate":"monotone"}},
     {"transform":[{"filter":"datum.r=='teL'"}],"mark":{"type":"area","interpolate":"monotone"}},
     {"transform":[{"filter":"datum.r=='cyR'"}],"mark":{"type":"area","interpolate":"monotone"}},
     {"transform":[{"filter":"datum.r=='teR'"}],"mark":{"type":"area","interpolate":"monotone"}},
     {"transform":[{"filter":"datum.r=='bRo'"}],"mark":{"type":"area","interpolate":"monotone"}},
     {"transform":[{"filter":"datum.r=='bRi'"}],"mark":{"type":"area","interpolate":"monotone"}},
     {"transform":[{"filter":"datum.r=='pR'"}],"mark":{"type":"area","interpolate":"monotone"}},
     {"transform":[{"filter":"datum.r=='gr'"}],"mark":{"type":"area","interpolate":"monotone"}},
     {"transform":[{"filter":"datum.r=='bL'"}],"mark":{"type":"area","interpolate":"monotone"}},
     {"transform":[{"filter":"datum.r=='pL'"}],"mark":{"type":"area","interpolate":"monotone"}},
     {"transform":[{"filter":"datum.r=='mL'"}],"mark":{"type":"area","interpolate":"monotone"}},
     {"transform":[{"filter":"datum.r=='y1'"}],"mark":{"type":"area","interpolate":"monotone"}},
     {"transform":[{"filter":"datum.r=='y2'"}],"mark":{"type":"area","interpolate":"monotone"}},
     {"transform":[{"filter":"datum.r=='y3'"}],"mark":{"type":"area","interpolate":"monotone"}},
     {"transform":[{"filter":"datum.r=='y4'"}],"mark":{"type":"area","interpolate":"monotone"}},
     {"transform":[{"filter":"datum.r=='y5'"}],"mark":{"type":"area","interpolate":"monotone"}},
     {"transform":[{"filter":"datum.r=='or'"}],"mark":{"type":"area","interpolate":"monotone"}},
     {"transform":[{"filter":"datum.r=='rd'"}],"mark":{"type":"area","interpolate":"monotone"}}
    ]},
   {"data":{"values":[{}]},"mark":{"type":"rect","fill":"white"},
    "encoding":{
     "x":{"datum":-11.36,"type":"quantitative","axis":{"orient":"top","values":[-10,-5,0,5,10],"labels":false,"title":null}},
     "x2":{"datum":-2.1},
     "y":{"datum":5.6,"type":"quantitative","axis":{"orient":"right","values":[-6,-4,-2,0,2,4,6],"labels":false,"title":null}},
     "y2":{"datum":3.16}}},
   {"data":{"values":[{}]},"mark":{"type":"text","text":"Ω","align":"left","baseline":"alphabetic","fontSize":27,"fontWeight":"bold","color":"black"},
    "encoding":{"x":{"datum":-11.23,"type":"quantitative","axis":null},"y":{"datum":3.78,"type":"quantitative","axis":null}}},
   {"data":{"values":[{}]},"mark":{"type":"text","text":"i","align":"left","baseline":"alphabetic","fontSize":16,"fontWeight":"bold","color":"black"},
    "encoding":{"x":{"datum":-9.5,"type":"quantitative","axis":null},"y":{"datum":3.3,"type":"quantitative","axis":null}}},
   {"data":{"values":[{}]},"mark":{"type":"text","text":"t=17.7","align":"left","baseline":"alphabetic","fontSize":27,"fontWeight":"bold","color":"black"},
    "encoding":{"x":{"datum":-9.06,"type":"quantitative","axis":null},"y":{"datum":3.78,"type":"quantitative","axis":null}}},
   {"data":{"values":[{}]},"mark":{"type":"text","text":"E","align":"center","baseline":"middle","fontSize":24,"fontWeight":"bold","color":"black"},
    "encoding":{"x":{"datum":-18.05,"type":"quantitative","axis":null},"y":{"datum":1.19,"type":"quantitative","axis":null}}},
   {"data":{"values":[{}]},"mark":{"type":"text","text":"y","align":"center","baseline":"middle","fontSize":16,"fontWeight":"bold","color":"black"},
    "encoding":{"x":{"datum":-17.0,"type":"quantitative","axis":null},"y":{"datum":0.61,"type":"quantitative","axis":null}}}
  ],
  "resolve":{"axis":{"x":"independent","y":"independent"}}
 },
 {
  "width":15,"height":178,
  "view":{"stroke":null},
  "layer":[
   {"data":{"name":"cb"},"mark":{"type":"rect"},
    "encoding":{
     "y":{"field":"lo","type":"quantitative","scale":{"domain":[-0.2911,0.2947],"nice":false,"zero":false},"axis":{"orient":"right","values":[-0.25,0.01,0.27],"format":".2f","labelExpr":"replace(datum.label,'\u2212','-')","ticks":false,"labelPadding":12,"labelFontSize":20,"title":null}},
     "y2":{"field":"hi"},
     "color":{"field":"v","type":"quantitative","legend":null,"scale":{"type":"linear","interpolate":"rgb","domain":[-0.25,-0.205,-0.1634,-0.1632,-0.0768,-0.0766,0.0099,0.0101,0.0966,0.0968,0.1832,0.1834,0.27],"range":["#000000","#4a1f66","#7d4c9e","#3c56a5","#0a9fdc","#0db0e3","#27b6a3","#00a651","#14a84c","#a6cf3a","#fff200","#f9a01b","#ed2024"]}}}},
   {"data":{"name":"cbb"},"mark":{"type":"rect","filled":false,"stroke":"black","strokeWidth":1},
    "encoding":{"y":{"field":"lo","type":"quantitative"},"y2":{"field":"hi"}}}
  ]
 }
 ]
}
]
}
